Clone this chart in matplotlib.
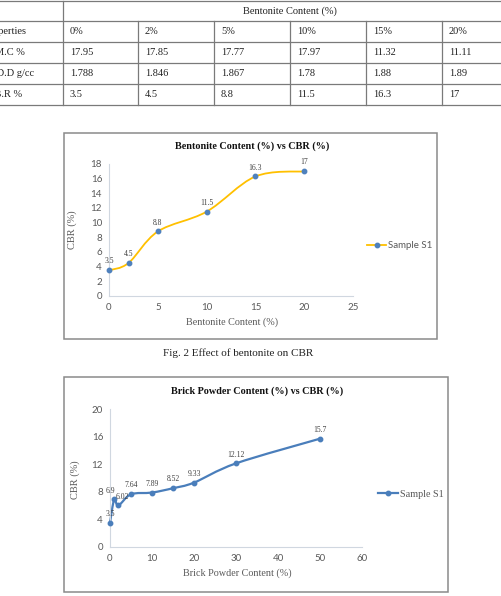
import matplotlib
matplotlib.use('Agg')
import matplotlib.pyplot as plt
from matplotlib.lines import Line2D
from matplotlib.patches import Rectangle, PathPatch
from matplotlib.path import Path

# table data
table_cols = ['0%', '2%', '5%', '10%', '15%', '20%']
row_names = ['Properties', 'O.M.C %', 'M.D.D g/cc', 'C.B.R %']
omc = ['17.95', '17.85', '17.77', '17.97', '11.32', '11.11']
mdd = ['1.788', '1.846', '1.867', '1.78', '1.88', '1.89']
cbr = ['3.5', '4.5', '8.8', '11.5', '16.3', '17']

# chart 1: bentonite
bent_x = [0, 2, 5, 10, 15, 20]
bent_y = [3.5, 4.5, 8.8, 11.5, 16.3, 17]
bent_lbl = ['3.5', '4.5', '8.8', '11.5', '16.3', '17']

# chart 2: brick powder
brick_x = [0, 1, 2, 5, 10, 15, 20, 30, 50]
brick_y = [3.5, 6.9, 6.02, 7.64, 7.89, 8.52, 9.33, 12.12, 15.7]
brick_lbl = ['3.5', '6.9', '6.02', '7.64', '7.89', '8.52', '9.33', '12.12', '15.7']

W, H = 502, 596
SERIF = 'Liberation Serif'
SANS = 'Lato'
GRAY = '#595959'


def fx(x):
  return x / W


def fy(y):
  return 1 - y / H


def smooth_path(xs, ys):
  # excel style smoothed line: bezier through the points
  pts = list(zip(xs, ys))
  verts = [pts[0]]
  codes = [Path.MOVETO]
  n = len(pts)
  for i in range(n - 1):
    p0 = pts[i - 1] if i > 0 else pts[i]
    p1 = pts[i]
    p2 = pts[i + 1]
    p3 = pts[i + 2] if i + 2 < n else pts[i + 1]
    c1 = (p1[0] + (p2[0] - p0[0]) / 6, p1[1] + (p2[1] - p0[1]) / 6)
    c2 = (p2[0] - (p3[0] - p1[0]) / 6, p2[1] - (p3[1] - p1[1]) / 6)
    verts += [c1, c2, p2]
    codes += [Path.CURVE4] * 3
  return Path(verts, codes)


fig = plt.figure(figsize=(W / 100, H / 100), dpi=100)

# ---- table ----
tcolor = '#7a7a7a'
hlines = [1, 21, 42, 63, 84, 105]
vlines = [63, 138, 214, 290, 366, 442]
for y in hlines:
  fig.add_artist(Line2D([0, 1], [fy(y), fy(y)], color=tcolor, lw=0.9))
for x in vlines:
  top = hlines[0] if x == vlines[0] else hlines[1]
  fig.add_artist(Line2D([fx(x), fx(x)], [fy(top), fy(hlines[-1])], color=tcolor, lw=0.9))

tkw = dict(family=SERIF, fontsize=7.5, color='#222222', va='center')
fig.text(fx(290), fy((hlines[0] + hlines[1]) / 2), 'Bentonite Content (%)', ha='center', **tkw)
rows = [table_cols, omc, mdd, cbr]
for r, vals in enumerate(rows):
  yc = fy((hlines[r + 1] + hlines[r + 2]) / 2)
  fig.text(fx(-15), yc, row_names[r], ha='left', **tkw)
  for c, v in enumerate(vals):
    fig.text(fx(vlines[c] + 7), yc, v, ha='left', **tkw)

# ---- chart frames ----
for (x0, y0, x1, y1) in [(64, 133, 437, 339), (64, 377, 448, 592)]:
  fig.add_artist(Rectangle((fx(x0), fy(y1)), fx(x1 - x0), fy(y0) - fy(y1),
                           transform=fig.transFigure, fill=False,
                           edgecolor='#8a8a8a', lw=1.1))

fig.text(fx(238), fy(353), 'Fig. 2 Effect of bentonite on CBR', family=SERIF,
         fontsize=8, color='#222222', ha='center', va='center')


def chart(rect, xs, ys, lbls, xlim, xticks, ylim, yticks, line_color, mark_color,
          lw, title, title_xy, xlabel, xlabel_xy, ylabel_xy, leg_xy, leg_font,
          lbl_dx=None):
  x0, y0, x1, y1 = rect
  ax = fig.add_axes([fx(x0), fy(y1), fx(x1 - x0), fy(y0) - fy(y1)])
  ax.set_xlim(*xlim)
  ax.set_ylim(*ylim)
  ax.set_xticks(xticks)
  ax.set_yticks(yticks)
  for s in ['top', 'right']:
    ax.spines[s].set_visible(False)
  for s in ['left', 'bottom']:
    ax.spines[s].set_color('#d0d7e0')
    ax.spines[s].set_linewidth(0.8)
  ax.tick_params(length=0, pad=5, labelsize=7, labelcolor=GRAY)
  for t in ax.get_xticklabels() + ax.get_yticklabels():
    t.set_family(SANS)
  ax.patch.set_alpha(0)

  ax.add_patch(PathPatch(smooth_path(xs, ys), fill=False, edgecolor=line_color,
                         lw=lw, capstyle='round', joinstyle='round', clip_on=False))
  ax.plot(xs, ys, linestyle='none', marker='o', markersize=3.2, color=mark_color,
          clip_on=False, zorder=3)
  if lbl_dx is None:
    lbl_dx = [0] * len(xs)
  for x, y, s, dx in zip(xs, ys, lbls, lbl_dx):
    ax.annotate(s, (x, y), xytext=(dx, 3.5), textcoords='offset points', ha='center',
                va='bottom', family=SERIF, fontsize=5.5, color='#404040')

  fig.text(fx(title_xy[0]), fy(title_xy[1]), title, family=SERIF, fontsize=7.3,
           weight='bold', color='#111111', ha='center', va='center')
  fig.text(fx(xlabel_xy[0]), fy(xlabel_xy[1]), xlabel, family=SERIF, fontsize=7.3,
           color=GRAY, ha='center', va='center')
  fig.text(fx(ylabel_xy[0]), fy(ylabel_xy[1]), 'CBR (%)', family=SERIF, fontsize=7.5,
           color=GRAY, ha='center', va='center', rotation=90)

  handle = Line2D([], [], color=line_color, lw=lw, marker='o', markersize=3.2,
                  markerfacecolor=mark_color, markeredgecolor=mark_color)
  ax.legend([handle], ['Sample S1'], loc='center left', frameon=False,
            bbox_to_anchor=(fx(leg_xy[0]), fy(leg_xy[1])), bbox_transform=fig.transFigure,
            borderpad=0, borderaxespad=0, handlelength=2.0, handletextpad=0.2,
            prop=leg_font)
  for t in ax.get_legend().get_texts():
    t.set_color(GRAY)
  return ax


chart((109, 164, 353, 296), bent_x, bent_y, bent_lbl, (0, 25), range(0, 26, 5),
      (0, 18), range(0, 19, 2), '#FFC000', '#4F81BD', 1.3,
      'Bentonite Content (%) vs CBR (%)', (252, 146),
      'Bentonite Content (%)', (232, 322), (72, 230), (367, 246),
      {'family': SANS, 'size': 7})

chart((110, 409, 362, 547), brick_x, brick_y, brick_lbl, (0, 60), range(0, 61, 10),
      (0, 20), range(0, 21, 4), '#4A7EBB', '#4A7EBB', 1.6,
      'Brick Powder Content (%) vs CBR (%)', (257, 391),
      'Brick Powder Content (%)', (237, 573), (75, 480), (378, 494),
      {'family': SERIF, 'size': 7.3},
      lbl_dx=[0, -3, 3, 0, 0, 0, 0, 0, 0])

fig.savefig('out.png', dpi=100)
